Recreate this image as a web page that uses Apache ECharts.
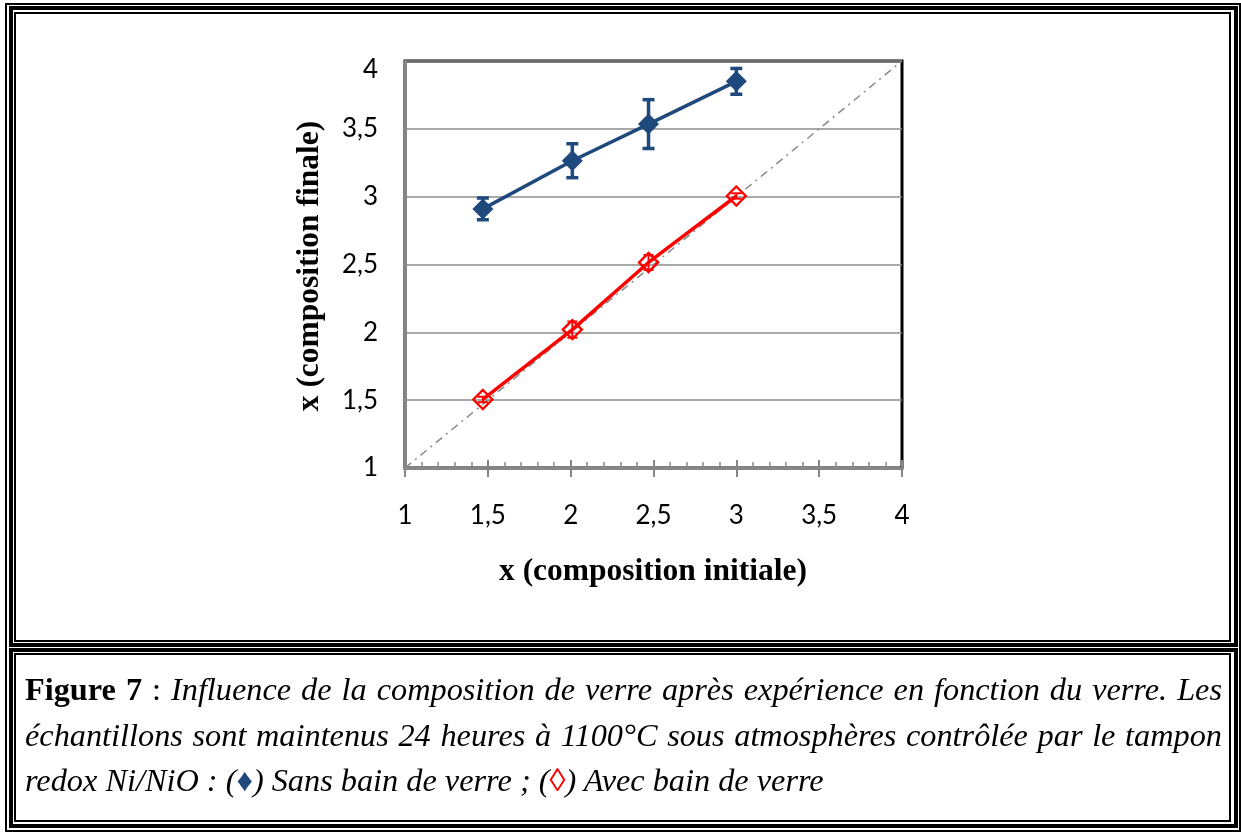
<!DOCTYPE html>
<html>
<head>
<meta charset="utf-8">
<script src="https://cdn.jsdelivr.net/npm/echarts@6/dist/echarts.min.js"></script>
<style>
  html, body { margin:0; padding:0; background:#fff; }
  .fr { position:absolute; box-sizing:border-box; border-style:solid; border-color:#000; pointer-events:none; }
  #cap { position:absolute; left:25px; top:667px; width:1197px; font-family:'Liberation Serif','Times New Roman',serif; font-size:32.3px; line-height:45.5px; color:#000; }
  #cap .ln { text-align:justify; text-align-last:justify; white-space:nowrap; }
  #cap .ln.last { text-align:left; text-align-last:left; }
  #cap i { font-style:italic; }
</style>
</head>
<body>
<div id="chart" style="position:absolute;left:0;top:0;width:1241px;height:832px;"></div>

<div class="fr" style="left:5px;top:3px;width:1236px;height:829px;border-width:2px;"></div>
<div class="fr" style="left:9px;top:6px;width:1229px;height:641px;border-width:4px;"></div>
<div class="fr" style="left:14px;top:12px;width:1217px;height:630px;border-width:2px;"></div>
<div class="fr" style="left:9px;top:648px;width:1229px;height:180px;border-width:4px;"></div>
<div class="fr" style="left:14px;top:653px;width:1217px;height:169px;border-width:2px;"></div>

<div id="cap">
  <div class="ln" style="white-space:normal;"><b>Figure 7</b> : <i>Influence de la composition de verre après expérience en fonction du verre. Les</i></div>
  <div class="ln" style="white-space:normal;"><i>échantillons sont maintenus 24 heures à 1100°C sous atmosphères contrôlée par le tampon</i></div>
  <div class="ln last"><i>redox Ni/NiO : (<span style="color:#1f497d;font-style:normal;">♦</span>) Sans bain de verre ; (<span style="color:#ff0000;">◊</span>) Avec bain de verre</i></div>
</div>

<script>
// ---- data ----
const xInitial   = [1.47, 2.01, 2.47, 3.00];
const sansBain   = [2.91, 3.265, 3.535, 3.85];
const sansErr    = [0.08, 0.125, 0.18, 0.095];
const avecBain   = [1.505, 2.02, 2.515, 3.005];
const avecErr    = [0.02, 0.06, 0.055, 0.02];
const diagX      = [1, 4];
const diagY      = [1, 4];
const axisTicks  = [1, 1.5, 2, 2.5, 3, 3.5, 4];
const xTitle = 'x (composition initiale)';
const yTitle = 'x (composition finale)';

const BLUE = '#1f497d';
const RED = '#ff0000';
const GRAY = '#868686';
const fmt = v => String(v).replace('.', ',');

const chart = echarts.init(document.getElementById('chart'), null, {renderer:'canvas'});

function errRenderer(color, lw, hw) {
  return function (params, api) {
    const x = api.value(0), lo = api.value(1), hi = api.value(2);
    const a = api.coord([x, lo]), b = api.coord([x, hi]);
    const st = {stroke: color, lineWidth: lw};
    return {type:'group', children:[
      {type:'line', shape:{x1:a[0], y1:a[1], x2:b[0], y2:b[1]}, style:st},
      {type:'line', shape:{x1:a[0]-hw, y1:a[1], x2:a[0]+hw, y2:a[1]}, style:st},
      {type:'line', shape:{x1:b[0]-hw, y1:b[1], x2:b[0]+hw, y2:b[1]}, style:st}
    ]};
  };
}

const gridPos = {left:405, top:61, right:339, bottom:364};
const LFONT = 'Lato, "Open Sans", sans-serif';
const labelFont = {fontFamily:LFONT, fontSize:26, color:'#000'};

chart.setOption({
  animation:false,
  backgroundColor:'transparent',
  grid:[
    Object.assign({show:true, borderColor:'#000', borderWidth:3, backgroundColor:'transparent', containLabel:false}, gridPos),
    Object.assign({show:false, containLabel:false}, gridPos)
  ],
  xAxis:[
    {type:'value', gridIndex:0, min:axisTicks[0], max:axisTicks[axisTicks.length-1], interval:0.5,
     axisLine:{show:true, onZero:false, lineStyle:{color:GRAY, width:3}},
     axisTick:{show:true, inside:true, length:8, lineStyle:{color:GRAY, width:2}},
     minorTick:{show:true, splitNumber:5, length:6, lineStyle:{color:GRAY, width:1.5}},
     splitLine:{show:false},
     axisLabel:Object.assign({margin:35, formatter:fmt, showMinLabel:true, showMaxLabel:true}, labelFont)},
    {type:'value', gridIndex:1, min:axisTicks[0], max:axisTicks[axisTicks.length-1], interval:0.5,
     axisLine:{show:false},
     axisTick:{show:true, inside:false, length:9, lineStyle:{color:GRAY, width:2}},
     splitLine:{show:false}, axisLabel:{show:false}}
  ],
  yAxis:[
    {type:'value', gridIndex:0, min:axisTicks[0], max:axisTicks[axisTicks.length-1], interval:0.5,
     axisLine:{show:true, onZero:false, lineStyle:{color:GRAY, width:3}},
     axisTick:{show:false},
     splitLine:{show:true, lineStyle:{color:'#8c8c8c', width:1.6}},
     axisLabel:Object.assign({margin:27, showMinLabel:true, showMaxLabel:true,
       formatter: v => v === 4 ? '{t|' + fmt(v) + '}' : fmt(v),
       rich:{t:{padding:[18,0,0,0], fontFamily:LFONT, fontSize:26, color:'#000'}}}, labelFont)},
    {type:'value', gridIndex:1, min:1, max:4, show:false}
  ],
  graphic:[
    {type:'text', x:653, y:572, z:100, style:{text:xTitle, font:'bold 31.5px "Liberation Serif", "Times New Roman", serif', fill:'#000', align:'center', verticalAlign:'middle'}},
    {type:'text', x:310, y:266, rotation:Math.PI/2, z:100, style:{text:yTitle, font:'bold 31.5px "Liberation Serif", "Times New Roman", serif', fill:'#000', align:'center', verticalAlign:'middle'}}
  ],
  series:[
    {type:'line', xAxisIndex:0, yAxisIndex:0, data:diagX.map((x,i)=>[x, diagY[i]]), symbol:'none', z:1,
     lineStyle:{color:'#8a8a8a', width:1.5, type:[8,5,2,5]}},
    {type:'line', xAxisIndex:0, yAxisIndex:0, data:xInitial.map((x,i)=>[x, avecBain[i]]), z:3,
     symbol:'diamond', symbolSize:[19,19],
     itemStyle:{color:'rgba(255,255,255,0)', borderColor:RED, borderWidth:2.4},
     lineStyle:{color:RED, width:3.5}},
    {type:'custom', xAxisIndex:0, yAxisIndex:0, z:4,
     renderItem: errRenderer(RED, 2, 5),
     encode:{x:0, y:[1,2]},
     data:xInitial.map((x,i)=>[x, avecBain[i]-avecErr[i], avecBain[i]+avecErr[i]])},
    {type:'line', xAxisIndex:0, yAxisIndex:0, data:xInitial.map((x,i)=>[x, sansBain[i]]), z:3,
     symbol:'diamond', symbolSize:[21,21],
     itemStyle:{color:BLUE, borderColor:BLUE, borderWidth:0},
     lineStyle:{color:BLUE, width:3.5}},
    {type:'custom', xAxisIndex:0, yAxisIndex:0, z:4,
     renderItem: errRenderer(BLUE, 3.5, 6),
     encode:{x:0, y:[1,2]},
     data:xInitial.map((x,i)=>[x, sansBain[i]-sansErr[i], sansBain[i]+sansErr[i]])}
  ]
});
</script>
</body>
</html>
